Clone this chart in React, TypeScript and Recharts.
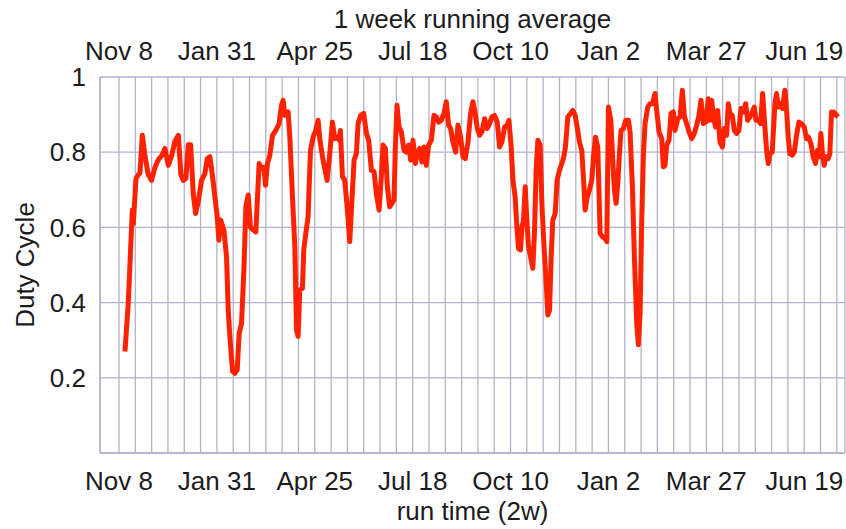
import { LineChart, Line, XAxis, YAxis, CartesianGrid } from 'recharts';

// weeks since Nov 8 in three stretches
const weeksA = [0.73, 1.14, 1.63, 1.76, 2.08, 2.37, 2.57, 2.86, 3.18, 3.59, 4.0, 4.41, 4.82, 5.22, 5.63, 6.04, 6.45, 6.86, 7.27, 7.59, 7.88, 8.2, 8.49, 8.78, 9.1, 9.39, 9.71, 10.12, 10.53, 10.82, 11.14, 11.47, 11.76, 12.04, 12.24, 12.45, 12.86, 13.18, 13.39, 13.59, 13.92, 14.2, 14.49, 14.73, 15.02, 15.31, 15.55, 15.84, 16.12, 16.45, 16.78, 16.94, 17.18, 17.47, 17.76, 17.96, 18.2, 18.49, 18.82, 19.22, 19.63, 19.92, 20.12, 20.33, 20.73, 20.94, 21.27, 21.55, 21.76, 21.96, 22.16, 22.49, 22.65, 22.9, 23.18, 23.47, 23.8, 24.12, 24.41, 24.61, 24.94, 25.22, 25.51, 25.84, 26.16, 26.45, 26.73, 26.98, 27.14, 27.39];
const dutyA = [0.27, 0.4, 0.646, 0.61, 0.73, 0.74, 0.745, 0.845, 0.79, 0.74, 0.725, 0.76, 0.78, 0.79, 0.81, 0.765, 0.79, 0.83, 0.845, 0.74, 0.725, 0.73, 0.82, 0.82, 0.69, 0.637, 0.668, 0.725, 0.743, 0.783, 0.788, 0.735, 0.68, 0.628, 0.566, 0.62, 0.593, 0.522, 0.38, 0.31, 0.217, 0.212, 0.221, 0.318, 0.345, 0.487, 0.655, 0.686, 0.6, 0.593, 0.588, 0.664, 0.77, 0.757, 0.76, 0.712, 0.77, 0.792, 0.845, 0.858, 0.876, 0.925, 0.938, 0.898, 0.907, 0.84, 0.68, 0.55, 0.327, 0.31, 0.434, 0.438, 0.54, 0.584, 0.628, 0.805, 0.84, 0.858, 0.885, 0.836, 0.788, 0.757, 0.725, 0.796, 0.88, 0.836, 0.84, 0.832, 0.858, 0.735];

const weeksB = [27.67, 28.0, 28.29, 28.57, 28.82, 29.1, 29.31, 29.63, 30.0, 30.33, 30.61, 30.94, 31.27, 31.55, 31.88, 32.16, 32.37, 32.65, 32.9, 33.18, 33.47, 33.71, 33.88, 34.08, 34.33, 34.61, 34.94, 35.22, 35.51, 35.76, 36.04, 36.33, 36.57, 36.86, 37.14, 37.39, 37.67, 37.96, 38.29, 38.61, 38.9, 39.18, 39.51, 39.84, 40.12, 40.41, 40.65, 40.94, 41.27, 41.55, 41.88, 42.16, 42.45, 42.78, 43.1, 43.39, 43.67, 43.92, 44.2, 44.49, 44.82, 45.14, 45.43, 45.71, 46.04, 46.37, 46.65, 46.94, 47.27, 47.59, 47.8, 48.08, 48.29, 48.57, 48.78, 48.98, 49.22, 49.39, 49.59, 49.8, 50.0, 50.2, 50.45, 50.73, 50.94, 51.14, 51.35, 51.63, 51.84, 52.08, 52.37, 52.57, 52.78, 52.98, 53.18, 53.47, 53.71, 54.0, 54.29, 54.53, 54.73, 55.02, 55.35, 55.63, 55.92, 56.16, 56.45, 56.73, 56.98, 57.14, 57.39, 57.67, 57.96, 58.2, 58.41];
const dutyB = [0.726, 0.646, 0.562, 0.68, 0.779, 0.796, 0.876, 0.898, 0.903, 0.85, 0.832, 0.752, 0.748, 0.69, 0.646, 0.735, 0.819, 0.81, 0.708, 0.655, 0.664, 0.673, 0.814, 0.925, 0.867, 0.854, 0.805, 0.8, 0.819, 0.779, 0.832, 0.77, 0.796, 0.81, 0.774, 0.814, 0.765, 0.819, 0.832, 0.898, 0.894, 0.88, 0.885, 0.903, 0.934, 0.872, 0.863, 0.827, 0.8, 0.872, 0.84, 0.788, 0.783, 0.827, 0.903, 0.934, 0.903, 0.863, 0.845, 0.854, 0.889, 0.863, 0.876, 0.894, 0.898, 0.88, 0.814, 0.827, 0.867, 0.872, 0.885, 0.814, 0.726, 0.68, 0.6, 0.544, 0.54, 0.6, 0.619, 0.708, 0.619, 0.549, 0.522, 0.491, 0.593, 0.752, 0.832, 0.819, 0.664, 0.558, 0.451, 0.367, 0.38, 0.522, 0.619, 0.637, 0.726, 0.752, 0.77, 0.788, 0.814, 0.894, 0.903, 0.911, 0.898, 0.867, 0.827, 0.805, 0.717, 0.646, 0.68, 0.699, 0.726, 0.796, 0.84];

const weeksC = [58.69, 58.98, 59.27, 59.59, 59.8, 60.0, 60.29, 60.53, 60.73, 60.94, 61.14, 61.35, 61.55, 61.84, 62.12, 62.45, 62.65, 62.94, 63.18, 63.47, 63.67, 63.88, 64.08, 64.29, 64.49, 64.82, 65.1, 65.39, 65.71, 65.92, 66.2, 66.53, 66.73, 66.94, 67.14, 67.43, 67.67, 67.96, 68.16, 68.49, 68.78, 69.06, 69.31, 69.59, 69.88, 70.2, 70.53, 70.82, 71.1, 71.35, 71.63, 71.96, 72.24, 72.45, 72.65, 72.94, 73.14, 73.39, 73.67, 73.96, 74.2, 74.49, 74.69, 74.9, 75.18, 75.43, 75.71, 76.0, 76.24, 76.53, 76.82, 77.06, 77.35, 77.55, 77.88, 78.08, 78.37, 78.65, 78.9, 79.18, 79.39, 79.59, 79.8, 80.08, 80.41, 80.61, 80.82, 81.1, 81.35, 81.63, 81.84, 82.04, 82.24, 82.53, 82.78, 83.06, 83.35, 83.67, 84.0, 84.29, 84.53, 84.82, 85.1, 85.39, 85.63, 85.84, 86.04, 86.24, 86.45, 86.65, 86.94, 87.14, 87.35, 87.63, 87.96, 88.16];
const dutyC = [0.814, 0.584, 0.575, 0.571, 0.562, 0.92, 0.885, 0.779, 0.7, 0.664, 0.717, 0.796, 0.858, 0.863, 0.885, 0.885, 0.854, 0.708, 0.522, 0.345, 0.288, 0.372, 0.619, 0.796, 0.876, 0.92, 0.929, 0.929, 0.956, 0.911, 0.854, 0.836, 0.761, 0.765, 0.819, 0.832, 0.903, 0.907, 0.858, 0.889, 0.894, 0.965, 0.894, 0.876, 0.854, 0.836, 0.85, 0.872, 0.898, 0.938, 0.876, 0.88, 0.942, 0.885, 0.938, 0.885, 0.867, 0.911, 0.827, 0.814, 0.863, 0.845, 0.929, 0.903, 0.898, 0.858, 0.85, 0.858, 0.916, 0.907, 0.929, 0.885, 0.894, 0.903, 0.92, 0.885, 0.885, 0.876, 0.956, 0.867, 0.805, 0.77, 0.796, 0.8, 0.929, 0.956, 0.92, 0.929, 0.916, 0.965, 0.911, 0.84, 0.796, 0.792, 0.8, 0.845, 0.88, 0.876, 0.867, 0.836, 0.84, 0.823, 0.788, 0.77, 0.805, 0.788, 0.85, 0.796, 0.765, 0.788, 0.783, 0.796, 0.907, 0.907, 0.898, 0.894];

// axis ticks: grid every 2 weeks, a label every 12
const gridWeeks = [0, 2, 4, 6, 8, 10, 12, 14, 16, 18, 20, 22, 24, 26, 28, 30, 32, 34, 36, 38, 40, 42, 44, 46, 48, 50, 52, 54, 56, 58, 60, 62, 64, 66, 68, 70, 72, 74, 76, 78, 80, 82, 84, 86, 88];
const labelWeeks = [0, 12, 24, 36, 48, 60, 72, 84];
const labelNames = ['Nov 8', 'Jan 31', 'Apr 25', 'Jul 18', 'Oct 10', 'Jan 2', 'Mar 27', 'Jun 19'];
const yTicks = [0, 0.2, 0.4, 0.6, 0.8, 1];

const data = [
  ...weeksA.map((w, i) => ({ week: w, duty: dutyA[i] })),
  ...weeksB.map((w, i) => ({ week: w, duty: dutyB[i] })),
  ...weeksC.map((w, i) => ({ week: w, duty: dutyC[i] })),
];

const weekLabel = (v: number) => {
  const i = labelWeeks.indexOf(v);
  return i >= 0 ? labelNames[i] : '';
};

const gridColor = '#b2b2cc';
const textColor = '#1c1c1c';
const fs = 26;

export default function App() {
  return (
    <div style={{ width: 846, height: 529, fontFamily: '"Liberation Sans", Arial, sans-serif', background: '#fff' }}>
      <style>{'body{margin:0}'}</style>
      <LineChart width={846} height={529} data={data} margin={{ top: 0, right: 1, bottom: 0, left: 0 }}>
        <CartesianGrid stroke={gridColor} strokeWidth={1.3} />
        <XAxis
          dataKey="week"
          type="number"
          domain={[-2.33, 89]}
          allowDataOverflow
          ticks={gridWeeks}
          interval={0}
          tickFormatter={weekLabel}
          height={76}
          tickSize={0}
          tickMargin={19}
          tick={{ fontSize: fs, fill: textColor }}
          axisLine={{ stroke: gridColor, strokeWidth: 1.5 }}
          label={{ value: 'run time (2w)', position: 'insideBottom', offset: 9, fontSize: fs, fill: textColor }}
        />
        <XAxis
          xAxisId="top"
          orientation="top"
          dataKey="week"
          type="number"
          domain={[-2.33, 89]}
          allowDataOverflow
          ticks={gridWeeks}
          interval={0}
          tickFormatter={weekLabel}
          height={77}
          tickSize={0}
          tickMargin={17}
          tick={{ fontSize: fs, fill: textColor }}
          axisLine={false}
          label={{ value: '1 week running average', position: 'insideTop', offset: 10, fontSize: fs, fill: textColor }}
        />
        <YAxis
          type="number"
          domain={[0, 1]}
          ticks={yTicks}
          interval={0}
          tickFormatter={(v: number) => (v === 0 ? '' : String(v))}
          width={100}
          tickSize={0}
          tickMargin={14}
          tick={{ fontSize: fs, fill: textColor }}
          axisLine={{ stroke: gridColor, strokeWidth: 1.5 }}
          label={{ value: 'Duty Cycle', angle: -90, position: 'insideLeft', offset: 25, fontSize: fs, fill: textColor, style: { textAnchor: 'middle' } }}
        />
        <Line
          type="linear"
          dataKey="duty"
          stroke="#ff2200"
          strokeWidth={5}
          strokeLinejoin="round"
          dot={false}
          isAnimationActive={false}
        />
      </LineChart>
    </div>
  );
}
